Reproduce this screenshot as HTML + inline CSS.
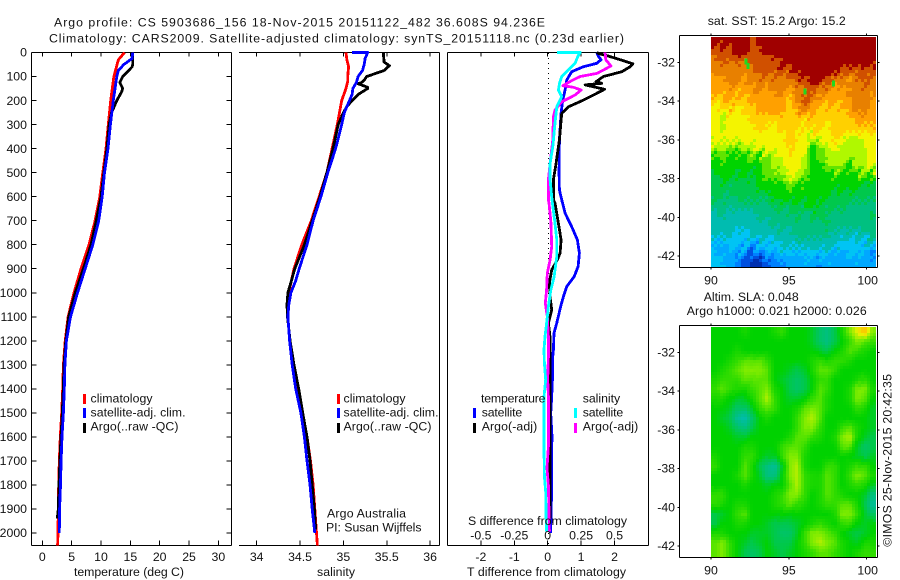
<!DOCTYPE html>
<html>
<head>
<meta charset="utf-8">
<title>Argo profile 5903686_156</title>
<style>
html,body{margin:0;padding:0;background:#fff;width:900px;height:580px;overflow:hidden}
svg{display:block}
text{font-family:"Liberation Sans",sans-serif;font-size:12.3px;fill:#111}
</style>
</head>
<body>
<svg id="chart" xmlns="http://www.w3.org/2000/svg" width="900" height="580" viewBox="0 0 900 580">
<rect x="0" y="0" width="900" height="580" fill="#fff"/>
<g id="sst-map"></g>
<g id="sla-map"></g>
<g id="axes"></g>
<line x1="548.5" x2="548.5" y1="53" y2="546" stroke="#000" stroke-width="1" stroke-dasharray="1 4" shape-rendering="crispEdges"/>
<g id="marks"></g>
<g id="zero-over"></g>

<text x="54" y="26.5" textLength="491" lengthAdjust="spacing">Argo profile: CS 5903686_156 18-Nov-2015 20151122_482 36.608S 94.236E</text>
<text x="49" y="42.5" textLength="575" lengthAdjust="spacing">Climatology: CARS2009. Satellite-adjusted climatology: synTS_20151118.nc (0.23d earlier)</text>

<text x="74" y="576" textLength="110" lengthAdjust="spacing">temperature (deg C)</text>
<text x="317" y="576" textLength="38" lengthAdjust="spacing">salinity</text>
<text x="467" y="576" textLength="159" lengthAdjust="spacing">T difference from climatology</text>
<text x="468" y="525" textLength="159" lengthAdjust="spacing">S difference from climatology</text>

<g>
<rect x="83" y="394" width="3" height="10" fill="#f00"/>
<rect x="83" y="408" width="3" height="10" fill="#00f"/>
<rect x="83" y="423" width="3" height="10" fill="#000"/>
<text x="90.5" y="402.5" textLength="62" lengthAdjust="spacing">climatology</text>
<text x="90.5" y="416.7" textLength="95" lengthAdjust="spacing">satellite-adj. clim.</text>
<text x="90.5" y="430.7" textLength="88" lengthAdjust="spacing">Argo(..raw -QC)</text>
</g>
<g>
<rect x="337" y="394" width="3" height="10" fill="#f00"/>
<rect x="337" y="408" width="3" height="10" fill="#00f"/>
<rect x="337" y="423" width="3" height="10" fill="#000"/>
<text x="343.5" y="402.5" textLength="62" lengthAdjust="spacing">climatology</text>
<text x="343.5" y="416.7" textLength="95" lengthAdjust="spacing">satellite-adj. clim.</text>
<text x="343.5" y="430.7" textLength="88" lengthAdjust="spacing">Argo(..raw -QC)</text>
</g>
<text x="327" y="517.7" textLength="79" lengthAdjust="spacing">Argo Australia</text>
<text x="326" y="531.7" textLength="95.5" lengthAdjust="spacing">PI: Susan Wijffels</text>

<g>
<text x="481" y="402.5" textLength="64.5" lengthAdjust="spacing">temperature</text>
<text x="582.7" y="402.5" textLength="37.5" lengthAdjust="spacing">salinity</text>
<rect x="473" y="408" width="3" height="10" fill="#00f"/>
<rect x="473" y="423" width="3" height="10" fill="#000"/>
<rect x="574" y="408" width="3" height="10" fill="#0ff"/>
<rect x="574" y="423" width="3" height="10" fill="#f0f"/>
<text x="481.7" y="416.7" textLength="40.5" lengthAdjust="spacing">satellite</text>
<text x="481.7" y="430.7" textLength="55.5" lengthAdjust="spacing">Argo(-adj)</text>
<text x="582.7" y="416.7" textLength="40.5" lengthAdjust="spacing">satellite</text>
<text x="582.7" y="430.7" textLength="55.5" lengthAdjust="spacing">Argo(-adj)</text>
</g>

<text x="707.7" y="25" textLength="138" lengthAdjust="spacing">sat. SST: 15.2 Argo: 15.2</text>
<text x="703.7" y="301" textLength="95" lengthAdjust="spacing">Altim. SLA: 0.048</text>
<text x="686.7" y="315" textLength="180" lengthAdjust="spacing">Argo h1000: 0.021 h2000: 0.026</text>
<text transform="translate(891.5,546.7) rotate(-90)" x="0" y="0" textLength="172.7" lengthAdjust="spacing">©IMOS 25-Nov-2015 20:42:35</text>
</svg>

<script>
// ---------- tick labels ----------
var depthTicks = [0,100,200,300,400,500,600,700,800,900,1000,1100,1200,1300,1400,1500,1600,1700,1800,1900,2000];
var tempTicks = [0,5,10,15,20,25,30];
var tempTickLabels = ['0','5','10','15','20','25','30'];
var salTicks = [34,34.5,35,35.5,36];
var salTickLabels = ['34','34.5','35','35.5','36'];
var tDiffTicks = [-2,-1,0,1,2];
var tDiffTickLabels = ['-2','-1','0','1','2'];
var sDiffTicks = [-0.5,-0.25,0,0.25,0.5];
var sDiffTickLabels = ['-0.5','-0.25','0','0.25','0.5'];
var lonTicks = [90,95,100];
var lonTickLabels = ['90','95','100'];
var latTicks = [-32,-34,-36,-38,-40,-42];
var latTickLabels = ['-32','-34','-36','-38','-40','-42'];

// ---------- temperature profiles ----------
var climTempDepth = [0,31,100,200,300,400,500,600,700,800,900,1000,1100,1200,1300,1400,1500,1600,1700,1800,1900,2000,2052];
var climTemp = [14.0,12.95,12.2,11.65,11.25,10.85,10.3,9.8,9.0,7.95,6.6,5.4,4.4,3.9,3.6,3.47,3.3,3.07,2.9,2.8,2.73,2.67,2.6];
var satTempDepth = [0,25,50,75,100,200,300,400,500,600,700,800,900,1000,1100,1200,1300,1400,1500,1600,1700,1800,1900,2000];
var satTemp = [15.4,15.3,13.9,12.95,12.7,12.1,11.6,11.2,10.6,10.2,9.6,8.6,7.3,6.0,4.8,4.1,3.85,3.75,3.6,3.35,3.2,3.1,2.95,2.9];
var argoTempDepth = [0,50,60,100,125,150,165,200,250,300,400,500,600,700,800,900,1000,1100,1200,1300,1400,1500,1600,1700,1800,1900,1940];
var argoTemp = [15.4,15.4,15.3,13.7,13.2,13.7,13.5,12.7,11.8,11.4,11,10.5,10,9.2,8.3,7,5.6,4.5,4,3.7,3.58,3.41,3.19,3.0,2.85,2.73,2.56];

// ---------- salinity profiles ----------
var climSalDepth = [0,30,60,100,120,150,200,300,400,500,600,700,800,900,950,1000,1050,1100,1200,1300,1400,1500,1600,1700,1800,1900,2000,2052];
var climSal = [35.03,35.04,35.06,35.05,35.05,35.03,34.98,34.93,34.87,34.81,34.72,34.63,34.52,34.43,34.40,34.37,34.355,34.355,34.385,34.42,34.47,34.525,34.58,34.62,34.65,34.67,34.69,34.70];
var satSalDepth = [0,0,25,50,75,100,125,150,175,200,225,250,300,400,500,600,700,800,900,950,1000,1050,1100,1200,1300,1400,1500,1600,1700,1800,1900,2000];
var satSal = [35.10,35.28,35.25,35.24,35.22,35.17,35.15,35.11,35.10,35.07,35.04,35.01,34.98,34.91,34.82,34.74,34.65,34.58,34.49,34.45,34.395,34.37,34.36,34.38,34.41,34.45,34.51,34.55,34.58,34.615,34.64,34.67];
var argoSalDepth = [0,40,55,75,90,100,115,125,130,145,150,175,200,225,250,300,400,500,600,700,800,900,950,1000,1050,1100,1200,1300,1400,1500,1600,1700,1800,1900,1985];
var argoSal = [35.46,35.47,35.53,35.47,35.35,35.27,35.24,35.21,35.17,35.28,35.28,35.17,35.10,35.04,35.0,34.94,34.88,34.81,34.73,34.64,34.55,34.44,34.40,34.36,34.35,34.355,34.385,34.43,34.485,34.53,34.58,34.615,34.64,34.665,34.68];

// ---------- difference profiles ----------
var satDTDepth = [0,17,30,45,59,80,115,156,198,253,364,503,572,613,669,725,780,835,891,933,974,1016,1057,1127,1168,1238,1279,1362,1432,1502,1598,1696,1821,1918,2000];
var satDT = [1.47,1.52,1.60,1.47,1.07,0.72,0.57,0.52,0.45,0.40,0.35,0.34,0.35,0.42,0.52,0.72,0.89,0.95,0.91,0.79,0.57,0.47,0.39,0.27,0.19,0.17,0.14,0.14,0.12,0.09,0.13,0.11,0.12,0.10,0.09];
var argoDTDepth = [0,4,13,30,47,59,80,100,121,128,135,153,170,198,226,253,364,461,530,613,627,711,780,835,863,905,960,1016,1071,1127,1182,1362,1432,1940];
var argoDT = [1.47,1.52,1.77,2.17,2.55,2.47,2.22,1.67,1.45,1.62,1.12,1.70,1.47,1.07,0.62,0.42,0.35,0.25,0.17,0.17,0.22,0.32,0.40,0.37,0.29,0.12,0.05,0.07,0.12,0.02,0.07,0.07,0.07,0.07];
var satDSDepth = [0,0,17,45,73,100,128,156,184,226,295,392,461,530,600,627,711,780,849,933,988,1057,1127,1182,1238,1293,1362,1432,1640,1765,1830,1918,1994];
var satDS = [0.068,0.243,0.225,0.205,0.155,0.105,0.088,0.08,0.105,0.068,0.055,0.038,0.018,0.018,0.03,0.035,0.055,0.068,0.068,0.048,0.023,0.005,-0.008,-0.02,-0.028,-0.025,-0.015,-0.028,-0.028,-0.025,-0.015,-0.013,-0.008];
var argoDSDepth = [0,30,56,73,87,100,117,138,145,156,177,205,240,267,364,461,530,613,627,711,808,863,919,988,1043,1099,1182,1266,1362,1432,1640,1730,1800,1994];
var argoDS = [0.43,0.435,0.473,0.418,0.368,0.243,0.18,0.113,0.193,0.25,0.205,0.105,0.055,0.043,0.038,0.018,0.005,0.005,0.01,0.025,0.03,0.018,-0.003,-0.008,-0.018,-0.003,0.005,0.005,0,0.005,0.005,-0.005,0.005,0.013];

// ---------- map grids (colour-level values, north to south, west to east) ----------
var sstGrid = [
[16,16,16,16,16,15,16,16,16,16,16,16,16,16,16,16,16,16,16,16,16,16],
[15,15,15,16,16,15,15,16,16,16,16,16,16,16,16,16,16,16,16,16,16,16],
[14,15,14,15,14,15,15,15,15,16,16,16,16,16,16,16,16,16,16,16,16,16],
[14,14,14,14,14,14,15,15,15,15,15,16,16,16,16,16,16,15,15,15,15,15],
[13,13,14,14,13,14,14,14,14,14,14,15,15,16,16,15,14,14,13,14,15,14],
[13,13,13,13,13,13,14,13,14,14,13,14,14,15,14,14,13,13,14,14,14,14],
[12,12,13,12,12,13,13,13,13,13,12,14,15,14,13,13,13,13,13,14,14,13],
[11,11,12,11,12,12,13,13,13,13,12,13,14,13,12,12,12,12,13,14,14,13],
[11,10,11,11,11,12,12,12,12,12,12,12,12,12,12,12,12,12,12,13,13,13],
[11,10,11,11,11,11,12,11,11,12,12,12,11,12,12,11,12,12,12,12,12,12],
[11,11,11,11,11,11,11,11,11,11,12,11,11,10,11,11,12,11,10,10,11,11],
[10,10,9,9,10,10,11,11,11,11,12,11,11,8,9,10,11,10,10,10,10,11],
[8,9,8,8,8,9,8,9,10,11,11,11,10,8,9,10,10,10,10,10,10,11],
[8,8,8,8,8,8,8,9,10,10,11,11,10,8,8,9,10,9,8,10,10,11],
[7,8,8,7,8,7,8,9,9,9,11,10,9,8,8,8,8,8,8,8,9,8],
[7,7,7,7,7,7,8,8,8,8,9,8,8,8,8,8,8,8,8,8,7,7],
[7,7,6,7,7,7,7,7,8,8,8,8,8,8,8,8,7,7,7,7,7,7],
[6,6,6,6,6,6,6,6,7,7,7,7,7,8,7,7,7,7,6,6,6,6],
[5,6,5,5,5,5,6,6,6,6,6,7,6,7,7,6,6,6,6,6,6,7],
[5,5,5,5,5,5,5,5,6,6,6,6,6,6,6,7,6,6,6,6,6,6],
[5,5,5,4,4,5,5,5,5,5,5,6,6,6,6,6,5,5,5,5,5,6],
[3,3,4,4,4,3,4,4,4,5,5,5,5,5,5,5,5,4,4,4,4,5],
[4,3,3,3,2,1,2,3,3,4,4,3,4,4,4,4,3,3,4,4,3,2],
[4,4,3,2,1,0,0,1,2,2,3,3,3,3,2,3,3,3,3,3,3,3]
];
var slaGrid = [
[8,8,8,8,8.5,8,8,8,8.5,9,8,8,8,7.5,6.5,6,7,8.5,10,11,12,10],
[8,8,8,8,8,8,8,8,8,8,8,8,8,7.5,6.5,6,7,8,9,10,9.5,9],
[8,8,8,8.5,8,8,8,8,8,8,8,8,8,8,7.5,7,8,8.5,9.5,9,8.5,8],
[8,8,8.5,9,9.5,9.5,9.5,9,8,8,8,8,8,8.5,9,8.5,9,9,8.5,8,8,8],
[8,8.5,9,9.5,10,10,10,9.5,8,8,7.5,7,7.5,8.5,9.5,9.5,9,8,8,8,8,8],
[8.5,9,9,9,9.5,9.5,9.5,9.5,8,7.5,7,6.5,7,8,9,9,8,8,8,8.5,9,8],
[9,9.5,9,8.5,8.5,9,9.5,10,8.5,8,7,6.5,7,8,9.5,9,8,8,8.5,10,10,8.5],
[8.5,8.5,8,7.5,7.5,8.5,9.5,10.5,9,8,7.5,7.5,8,9,9.5,8.5,8,8,8.5,10,9.5,8],
[8,8,7.5,6.5,6.5,7.5,9,9.5,9,8,8,8.5,9.5,10,9.5,8.5,8,8,8,9,8.5,7.5],
[8,7.5,7,5.5,5,6.5,8,8.5,8,8,8,9,10,10.5,9.5,8,8,8,8,8,8,7.5],
[8,8,7.5,6.5,6,7,8,8,8,8,8,9,10,10,9,8,8,9,9.5,8.5,8,7.5],
[8,8,8,7.5,7.5,8,8,8,8,8,8.5,9.5,9.5,9,8.5,8,8.5,10,10.5,8.5,7.5,7],
[8,8,8,8,8.5,8.5,8,8,8,9,9.5,9.5,9,8,8,8,8,9.5,9.5,7.5,6.5,7],
[8.5,8,8,8,9,9,8,7.5,7.5,9,10,10,8.5,8,8,8,8,8,8,7.5,7,7.5],
[9,8,8,8,9.5,8.5,7,6,5.5,7.5,10,10.5,8.5,8,8,9,9,8,8.5,9,9,8],
[8,8,8,8.5,9.5,8.5,7.5,6,6,8,10,10.5,9,8.5,8.5,9.5,9,8,9,10,9.5,8.5],
[8,8,8,8,8.5,8,8,7.5,8,8,9.5,10.5,9,8.5,8.5,9.5,9,8,8.5,9,8.5,7.5],
[9,9,8,8,8,8,8,8,8.5,9,10,10,9,8,8.5,9.5,9,8.5,8,8,7.5,6],
[9,8.5,8,8.5,8.5,8,8,8,8.5,9,9.5,9,8.5,8,8.5,9,9,9.5,9.5,8.5,7,5.5],
[7,7.5,8,9,9.5,8,8,8,8,8,8,8,8,8,8,8,8.5,10,10,9,7.5,6.5],
[7,8,8,8.5,8.5,8,8,7.5,7,7,7,7.5,8,8.5,9,8.5,8,9,9,8,7.5,8],
[8.5,8.5,8,8,8,7.5,7.5,7.5,7,6.5,6.5,7.5,9,10,10,9.5,9,8,7.5,7,7.5,8],
[9.5,10,9,8,7.5,7,7.5,8,7,7,7,8,9,10,10.5,10,9.5,8.5,8,7.5,8.5,8.5],
[9.5,10,9,8,7,6.5,7,8,7.5,7,7.5,8,8.5,9,9.5,9.5,9,8.5,8,8.5,9,9]
];
var sstSpeckLon = [92.2,92.35,96.0,97.85];
var sstSpeckLat = [-31.95,-32.2,-33.5,-33.1];

var sstPalette = ['#0030b0','#0050e0','#0080ff','#00a8ff','#00c4f4','#00bcb0','#00c080','#00c84c','#00d400','#60e400','#b0f800','#f4f400','#ffd000','#ffa000','#e88000','#d05000','#a00000'];
var slaPalette = ['#0030b0','#0050e0','#0080ff','#00a8ff','#00c4f4','#00bcb0','#00c080','#00c84c','#00d200','#30dc00','#80ec00','#e8f000','#ffc000','#f09000','#e07000','#c84000','#a00000'];

var SVGNS = 'http://www.w3.org/2000/svg';
function mk(tag, parent, attrs) {
  var el = document.createElementNS(SVGNS, tag);
  for (var k in attrs) el.setAttribute(k, attrs[k]);
  parent.appendChild(el);
  return el;
}

// axis functions
function yDepth(d) { return 52.5 + d * 0.24025; }
function xTemp(t) { return 42.3 + t * 5.87; }
function xSal(s) { return 256.7 + (s - 34) * 86.7; }
function xDT(t) { return 547.7 + t * 33.4; }
function xDS(s) { return 547.7 + s * 133.6; }
function xLon(lon) { return 711 + (lon - 90) * 15.57; }
function yLat1(lat) { return 62.3 + (-32 - lat) * 19.37; }
function yLat2(lat) { return 352.3 + (-32 - lat) * 19.37; }

var axes = document.getElementById('axes');
var marks = document.getElementById('marks');

function frameLine(x1, y1, x2, y2) {
  var el = mk('line', axes, {x1:x1, y1:y1, x2:x2, y2:y2, stroke:'#000', 'stroke-width':1, 'shape-rendering':'crispEdges'});
  
  
}
function tickMark(x1, y1, x2, y2) {
  var el = mk('line', axes, {x1:x1, y1:y1, x2:x2, y2:y2, stroke:'#000', 'stroke-width':1, 'shape-rendering':'crispEdges'});
  
  
}
function tickText(x, y, anchor, str) {
  var el = mk('text', axes, {x:x, y:y, 'text-anchor':anchor});
  el.textContent = str;
  
  
}
function profile(depths, vals, xf, colour) {
  var pts = [];
  for (var i = 0; i < vals.length; i++) pts.push(xf(vals[i]).toFixed(1) + ',' + yDepth(depths[i]).toFixed(1));
  var el = mk('polyline', marks, {points:pts.join(' '), fill:'none', stroke:colour, 'stroke-width':2.8, 'stroke-linejoin':'round', 'shape-rendering':'crispEdges'});
  
  
}

var TOP = 52.5, BOT = 545.5;
// panel frames
frameLine(31.5,TOP,231.5,TOP); frameLine(31.5,BOT,231.5,BOT); frameLine(31.5,TOP,31.5,BOT); frameLine(231.5,TOP,231.5,BOT);
frameLine(239,TOP,439.5,TOP); frameLine(239,BOT,439.5,BOT); frameLine(439.5,TOP,439.5,BOT);
frameLine(447.5,TOP,648.5,TOP); frameLine(447.5,BOT,648.5,BOT); frameLine(447.5,TOP,447.5,BOT); frameLine(648.5,TOP,648.5,BOT);

depthTicks.forEach(function (d) {
  var y = yDepth(d);
  tickMark(31.5, y, 36.5, y);
  tickMark(226.5, y, 231.5, y);
  tickText(27, y + 4.2, 'end', String(d));
});
tempTicks.forEach(function (t, i) {
  var x = xTemp(t);
  tickMark(x, TOP, x, TOP + 4);
  tickMark(x, BOT, x, BOT - 5);
  tickText(x, 561, 'middle', tempTickLabels[i]);
});
salTicks.forEach(function (s, i) {
  var x = xSal(s);
  tickMark(x, TOP, x, TOP + 4);
  tickMark(x, BOT, x, BOT - 5);
  tickText(x, 561, 'middle', salTickLabels[i]);
});
tDiffTicks.forEach(function (t, i) {
  var x = xDT(t);
  tickMark(x, TOP, x, TOP + 4);
  tickMark(x, BOT, x, BOT - 5);
  tickText(x, 561, 'middle', tDiffTickLabels[i]);
});

// profile lines
profile(climTempDepth, climTemp, xTemp, '#f00');
profile(argoTempDepth, argoTemp, xTemp, '#000');
profile(satTempDepth, satTemp, xTemp, '#00f');
profile(climSalDepth, climSal, xSal, '#f00');
profile(argoSalDepth, argoSal, xSal, '#000');
profile(satSalDepth, satSal, xSal, '#00f');
profile(satDTDepth, satDT, xDT, '#00f');
profile(argoDTDepth, argoDT, xDT, '#000');
profile(argoDSDepth, argoDS, xDS, '#f0f');
profile(satDSDepth, satDS, xDS, '#0ff');

// S difference tick labels sit above the lines
var sTickGroup = document.getElementById('zero-over');
sDiffTicks.forEach(function (s, i) {
  var el = mk('text', sTickGroup, {x:xDS(s), y:539.5, 'text-anchor':'middle'});
  el.textContent = sDiffTickLabels[i];
  
  
});

// colour lookup
function levelColour(v, pal, quantise) {
  if (quantise) return pal[Math.max(0, Math.min(16, Math.round(v)))];
  var c = Math.max(0, Math.min(16, v));
  var a = Math.floor(c), b = Math.min(16, a + 1), f = c - a;
  function ch(hex, p) { return parseInt(hex.substr(1 + 2 * p, 2), 16); }
  var r = Math.round(ch(pal[a],0) * (1-f) + ch(pal[b],0) * f);
  var g = Math.round(ch(pal[a],1) * (1-f) + ch(pal[b],1) * f);
  var bl = Math.round(ch(pal[a],2) * (1-f) + ch(pal[b],2) * f);
  return 'rgb(' + r + ',' + g + ',' + bl + ')';
}
function sampleGrid(grid, fx, fy) {
  var rows = grid.length, cols = grid[0].length;
  fx = Math.max(0, Math.min(cols - 1.001, fx));
  fy = Math.max(0, Math.min(rows - 1.001, fy));
  var i = Math.floor(fx), j = Math.floor(fy), u = fx - i, v = fy - j;
  return grid[j][i] * (1-u) * (1-v) + grid[j][i+1] * u * (1-v) + grid[j+1][i] * (1-u) * v + grid[j+1][i+1] * u * v;
}
function drawMap(group, grid, top, pal, quantise, streak, cellName) {
  var W = 165, H = 230, step = 3;
  var cols = grid[0].length, rows = grid.length;
  for (var py = 0; py < H; py += step) {
    for (var px = 0; px < W; px += step) {
      var fx = (px + 1.5) / W * cols - 0.5;
      var fy = (py + 1.5) / H * rows - 0.5;
      // saw-tooth sampling offset reproduces the diagonal stair-step texture of the gridded field
      var saw = ((px + py * 0.6) % 12) / 12 - 0.5;
      var saw2 = ((px * 2 + py) % 27) / 27 - 0.5;
      fy += streak * (saw + saw2);
      var el = mk('rect', group, {x:711 + px, y:top + py, width:step, height:step, fill:levelColour(sampleGrid(grid, fx, fy), pal, quantise), 'shape-rendering':'crispEdges'});
      
      
    }
  }
}
var sstGroup = document.getElementById('sst-map');
var slaGroup = document.getElementById('sla-map');
drawMap(sstGroup, sstGrid, 37, sstPalette, true, 0.9, 'sst-cell');
drawMap(slaGroup, slaGrid, 327, slaPalette, false, 0.15, 'sla-cell');
sstSpeckLon.forEach(function (lon, i) {
  var el = mk('rect', sstGroup, {x:xLon(lon) - 1, y:yLat1(sstSpeckLat[i]) - 3, width:3, height:6, fill:'#20d820', 'shape-rendering':'crispEdges'});
  
  
});

// map frames and ticks
function mapAxes(top, bottom, yf, labelBase) {
  frameLine(679.5, top, 877.5, top);
  frameLine(679.5, bottom, 877.5, bottom);
  frameLine(679.5, top, 679.5, bottom);
  frameLine(877.5, top, 877.5, bottom);
  lonTicks.forEach(function (lon, i) {
    var x = xLon(lon);
    tickMark(x, top - 2, x, top);
    tickMark(x, bottom, x, bottom + 2);
    tickText(i === 2 ? x + 1 : x, labelBase, 'middle', lonTickLabels[i]);
  });
  latTicks.forEach(function (lat, i) {
    var y = yf(lat);
    tickMark(677.5, y, 679.5, y);
    tickMark(877.5, y, 879.5, y);
    tickText(675, y + 4.2, 'end', latTickLabels[i]);
  });
}
mapAxes(35.5, 267.5, yLat1, 284.7);
mapAxes(325.5, 557.5, yLat2, 574.7);
</script>
</body>
</html>
